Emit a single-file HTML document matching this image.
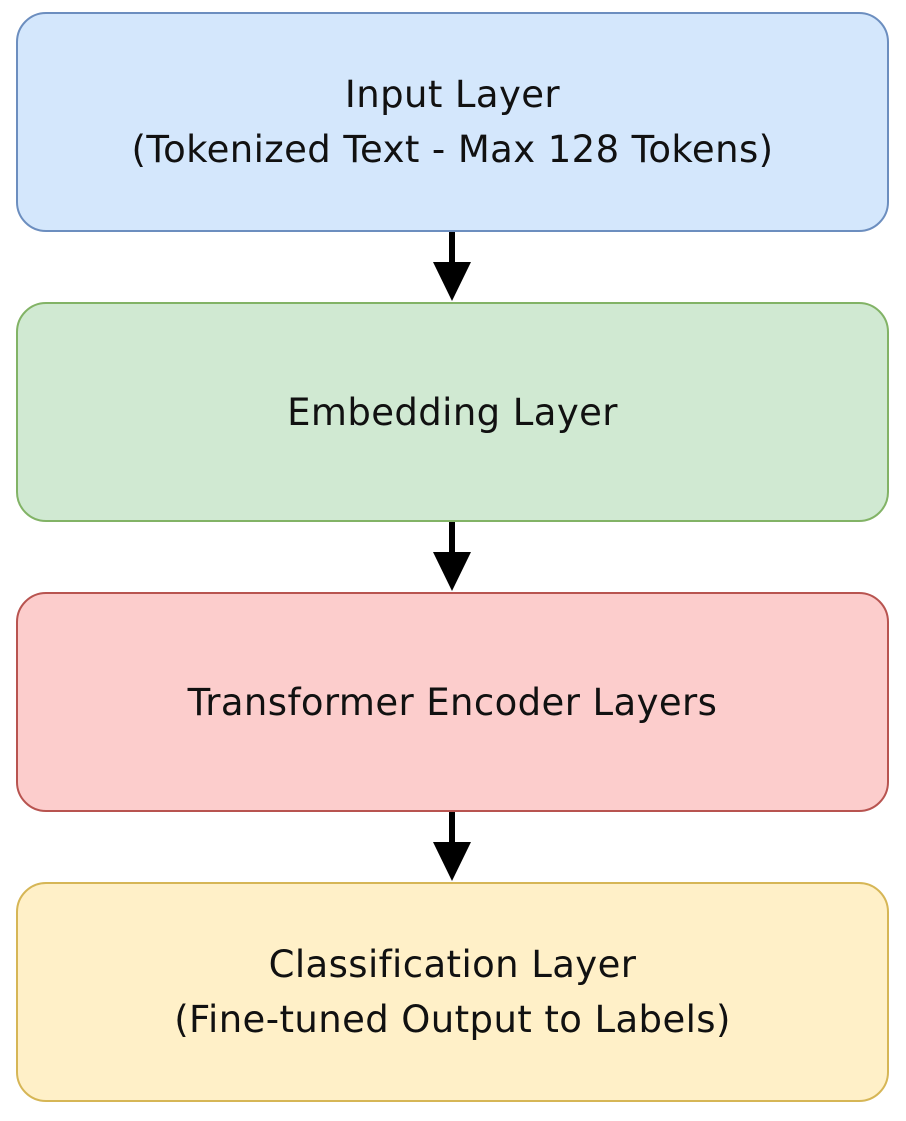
<!DOCTYPE html>
<html><head><style>
body{margin:0;background:#fff;width:906px;height:1121px;position:relative;overflow:hidden;font-family:"DejaVu Sans","Liberation Sans",sans-serif}
.b{position:absolute;left:16px;width:869px;height:216px;border:2px solid;border-radius:30px;display:flex;align-items:center;justify-content:center;text-align:center;font-size:37px;letter-spacing:0.4px;line-height:55px;color:#111}
</style></head><body>
<div class="b" style="top:12px;background:#d4e7fc;border-color:#6c8ebf">Input Layer<br>(Tokenized Text - Max 128 Tokens)</div>
<div class="b" style="top:302px;background:#d0e9d2;border-color:#82b366">Embedding Layer</div>
<div class="b" style="top:592px;background:#fccdcc;border-color:#b85450">Transformer Encoder Layers</div>
<div class="b" style="top:882px;background:#fff0c8;border-color:#d6b656">Classification Layer<br>(Fine-tuned Output to Labels)</div>
<svg width="906" height="1121" style="position:absolute;left:0;top:0">
<g fill="#000" stroke="#000">
<line x1="452" y1="232" x2="452" y2="264" stroke-width="6"/><polygon points="433,262 471,262 452,301" stroke="none"/>
<line x1="452" y1="522" x2="452" y2="554" stroke-width="6"/><polygon points="433,552 471,552 452,591" stroke="none"/>
<line x1="452" y1="812" x2="452" y2="844" stroke-width="6"/><polygon points="433,842 471,842 452,881" stroke="none"/>
</g></svg>
</body></html>
